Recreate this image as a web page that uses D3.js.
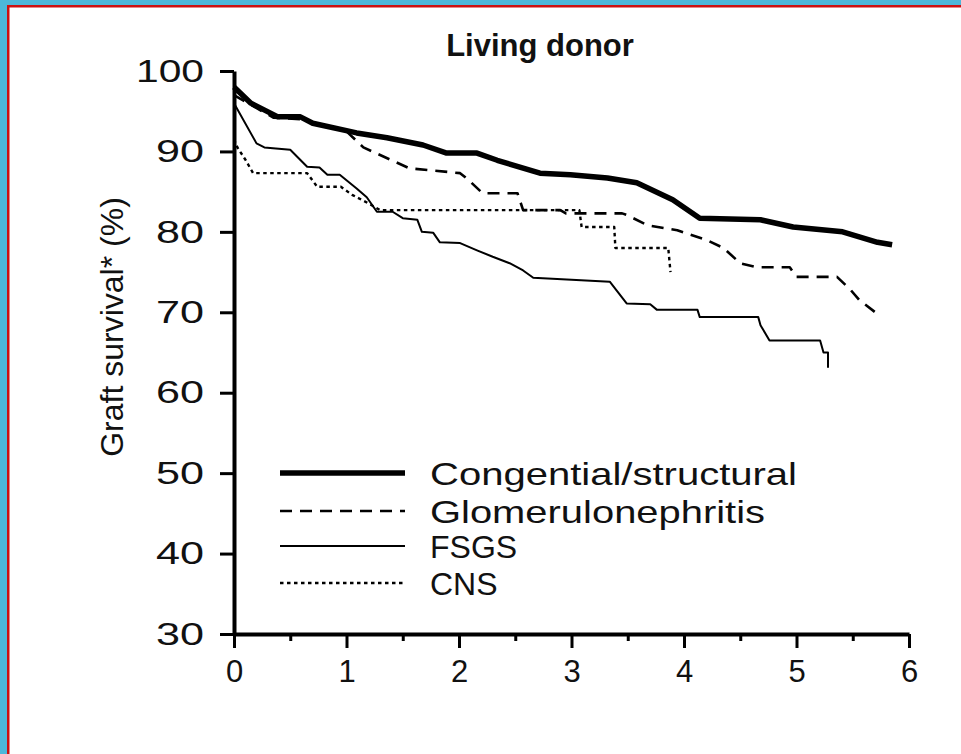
<!DOCTYPE html>
<html>
<head>
<meta charset="utf-8">
<script src="https://cdn.jsdelivr.net/npm/d3@7"></script>
<style>
  html, body { margin: 0; padding: 0; background: #ffffff; }
  svg { display: block; }
  text { font-family: "Liberation Sans", Arial, Helvetica, sans-serif; fill: #111; }
</style>
</head>
<body>
<script>
// ---- data ----
const seriesNames = ["Congential/structural", "Glomerulonephritis", "FSGS", "CNS"];

const congenitalTimes = [0, 0.15, 0.39, 0.59, 0.7, 1.09, 1.36, 1.68, 1.89, 2.16, 2.34, 2.72, 2.99, 3.32, 3.58, 3.9, 4.14, 4.68, 4.97, 5.41, 5.72, 5.85];
const congenitalValues = [98, 96.0, 94.3, 94.3, 93.5, 92.3, 91.7, 90.8, 89.8, 89.8, 88.9, 87.3, 87.1, 86.7, 86.1, 84.0, 81.7, 81.5, 80.6, 80.0, 78.7, 78.4];

const gnTimes = [0, 0.35, 0.6, 1.0, 1.15, 1.56, 2.01, 2.08, 2.21, 2.52, 2.57, 2.9, 2.95, 3.45, 3.49, 3.68, 3.94, 4.2, 4.35, 4.5, 4.65, 4.94, 5.0, 5.36, 5.48, 5.56, 5.7];
const gnValues = [97, 94.2, 94.0, 92.5, 90.5, 87.9, 87.3, 86.5, 84.8, 84.8, 82.7, 82.7, 82.3, 82.3, 82.1, 80.8, 80.2, 79.0, 78.0, 76.1, 75.6, 75.6, 74.4, 74.4, 72.8, 71.5, 70.0];

const fsgsTimes = [0, 0.2, 0.27, 0.5, 0.65, 0.76, 0.83, 0.94, 1.09, 1.18, 1.27, 1.41, 1.5, 1.63, 1.67, 1.77, 1.83, 2.01, 2.16, 2.3, 2.45, 2.57, 2.66, 3.34, 3.49, 3.7, 3.76, 4.12, 4.14, 4.66, 4.68, 4.76, 5.21, 5.24, 5.28, 5.28];
const fsgsValues = [96, 91, 90.5, 90.2, 88.1, 88.0, 87.1, 87.1, 85.4, 84.3, 82.5, 82.5, 81.7, 81.5, 80.0, 79.9, 78.7, 78.6, 77.7, 76.9, 76.1, 75.2, 74.3, 73.8, 71.1, 71.0, 70.3, 70.3, 69.4, 69.4, 68.4, 66.5, 66.5, 65.0, 65.0, 63.1];

const cnsTimes = [0, 0.03, 0.1, 0.17, 0.65, 0.74, 0.95, 1.05, 1.2, 1.3, 3.07, 3.09, 3.38, 3.39, 3.86, 3.88];
const cnsValues = [91.5, 90.5, 89, 87.3, 87.3, 85.6, 85.6, 84.6, 83.5, 82.7, 82.7, 80.6, 80.6, 78.0, 78.0, 75.0];

const yTickValues = [30, 40, 50, 60, 70, 80, 90, 100];
const xTickValues = [0, 1, 2, 3, 4, 5, 6];
const xMinorTickValues = [0.5, 1.5, 2.5, 3.5, 4.5, 5.5];

// ---- layout ----
const W = 961, H = 754;
const svg = d3.select("body").append("svg").attr("width", W).attr("height", H);

// frame (top and left borders)
svg.append("rect").attr("x", 0).attr("y", 0).attr("width", W).attr("height", 6).attr("fill", "#4db7d9");
svg.append("rect").attr("x", 0).attr("y", 0).attr("width", 7).attr("height", H).attr("fill", "#4db7d9");
svg.append("rect").attr("x", 7).attr("y", 5).attr("width", W - 7).attr("height", 2.5).attr("fill", "#cc1010");
svg.append("rect").attr("x", 7).attr("y", 5).attr("width", 2.5).attr("height", H - 5).attr("fill", "#cc1010");

const x = d3.scaleLinear().domain([0, 6]).range([234, 909]);
const y = d3.scaleLinear().domain([30, 100]).range([634, 71]);

// title
svg.append("text").attr("x", 540).attr("y", 56).attr("text-anchor", "middle")
  .attr("font-size", 31).attr("font-weight", "bold").text("Living donor");

// y axis label
svg.append("text").attr("transform", "translate(123,327) rotate(-90)")
  .attr("text-anchor", "middle").attr("font-size", 32).text("Graft survival* (%)");

// axes
const yAxis = d3.axisLeft(y).tickValues(yTickValues).tickSize(14).tickSizeOuter(0).tickPadding(16);
const gy = svg.append("g").attr("transform", `translate(${x(0)},0)`).call(yAxis);
gy.selectAll("text").attr("font-size", 32).attr("fill", "#111")
  .attr("font-family", "Liberation Sans, Arial, sans-serif")
  .attr("lengthAdjust", "spacingAndGlyphs")
  .attr("textLength", d => String(d).length === 3 ? 68 : 48);

const xAxis = d3.axisBottom(x).tickValues(xTickValues).tickFormat(d3.format("d"))
  .tickSize(14).tickSizeOuter(0).tickPadding(12);
const gx = svg.append("g").attr("transform", `translate(0,${y(30)})`).call(xAxis);
gx.selectAll("text").attr("font-size", 31).attr("fill", "#111").attr("font-family", "Liberation Sans, Arial, sans-serif");

const xMinor = d3.axisBottom(x).tickValues(xMinorTickValues).tickSize(7).tickSizeOuter(0).tickFormat("");
const gxm = svg.append("g").attr("transform", `translate(0,${y(30)})`).call(xMinor);
gxm.select(".domain").remove();

[gy, gx, gxm].forEach(g => {
  g.selectAll(".tick line").attr("stroke", "#000").attr("stroke-width", 3);
});
gy.select(".domain").attr("stroke", "#000").attr("stroke-width", 4);
gx.select(".domain").attr("stroke", "#000").attr("stroke-width", 4);

// series
const styles = [
  { w: 5.5, dash: null },
  { w: 2.6, dash: "12,8" },
  { w: 2.0, dash: null },
  { w: 2.4, dash: "3.5,3.5" }
];
const seriesData = [
  d3.zip(congenitalTimes, congenitalValues),
  d3.zip(gnTimes, gnValues),
  d3.zip(fsgsTimes, fsgsValues),
  d3.zip(cnsTimes, cnsValues)
];
const line = d3.line().x(d => x(d[0])).y(d => y(d[1])).curve(d3.curveLinear);

const drawOrder = [3, 2, 1, 0];
drawOrder.forEach(i => {
  svg.append("path").datum(seriesData[i])
    .attr("fill", "none").attr("stroke", "#000")
    .attr("stroke-width", styles[i].w)
    .attr("stroke-linejoin", "round")
    .attr("stroke-dasharray", styles[i].dash)
    .attr("d", line);
});

// legend
const legendY = [473, 511, 546, 583];
const legendTextWidths = [367, 335, null, null];
seriesNames.forEach((name, i) => {
  svg.append("line").attr("x1", 280).attr("x2", 405)
    .attr("y1", legendY[i]).attr("y2", legendY[i])
    .attr("stroke", "#000").attr("stroke-width", styles[i].w)
    .attr("stroke-dasharray", styles[i].dash);
  const t = svg.append("text").attr("x", 430).attr("y", legendY[i]).attr("dy", "0.36em")
    .attr("font-size", 32).text(name);
  if (legendTextWidths[i]) {
    t.attr("textLength", legendTextWidths[i]).attr("lengthAdjust", "spacingAndGlyphs");
  }
});
</script>
</body>
</html>
